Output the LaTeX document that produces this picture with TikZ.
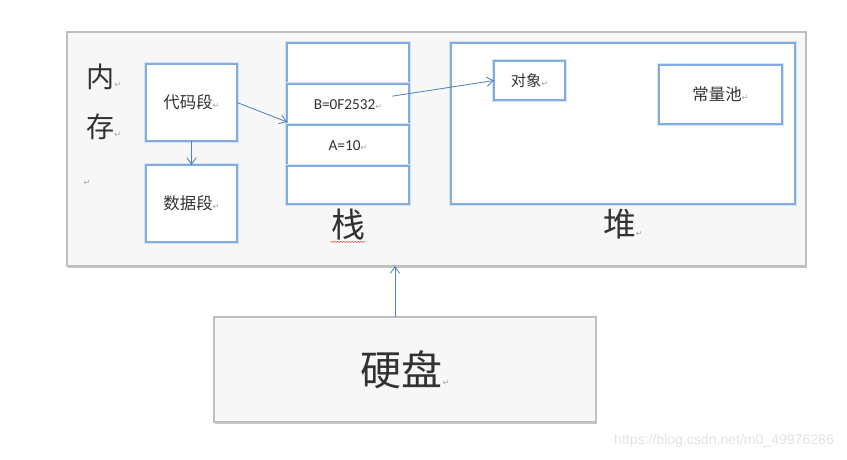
\documentclass[tikz,border=0pt]{standalone}
\usepackage{fontspec}
\setmainfont{Carlito}
\setsansfont{Liberation Sans}
\newfontfamily\cjk{Noto Sans CJK SC}
\newfontfamily\symb{DejaVu Sans}
\usepackage{tikz}
\usetikzlibrary{arrows.meta,positioning,shadows,decorations.pathmorphing}
\definecolor{boxblue}{RGB}{130,172,224}
\definecolor{arrowblue}{RGB}{79,129,189}
\definecolor{txt}{RGB}{50,50,50}
\newcommand\ret{{\symb\fontsize{7}{7}\selectfont\color{gray!70}↵}}

\begin{document}
\begin{tikzpicture}[x=0.03cm, y=-0.03cm,
  panel/.style={draw=gray!50, line width=1.2pt, fill=gray!6, inner sep=0pt, outer sep=0pt,
                drop shadow={shadow xshift=0.8pt, shadow yshift=-2pt, opacity=0.45}},
  seg/.style={draw=boxblue, line width=1.8pt, fill=white, inner sep=2pt, outer sep=0pt,
              preaction={draw=boxblue!35, line width=3.6pt},
              font=\cjk\fontsize{14}{14}\selectfont, text=txt},
  cell/.style={seg, minimum width=3.66cm, minimum height=1.23cm, font=\fontsize{13}{13}\selectfont},
  big/.style={font=\cjk\fontsize{24}{24}\selectfont, text=txt, inner sep=0pt},
  arr/.style={-{Straight Barb[length=2mm,width=2.8mm]}, draw=arrowblue, line width=0.7pt}
]
\useasboundingbox (0,0) rectangle (847,460);

% memory and hard disk
\node[panel, minimum width=22.17cm, minimum height=7.02cm] (mem) at (436.5,149) {};
\node[panel, minimum width=11.46cm, minimum height=3.15cm,
      font=\cjk\fontsize{35}{35}\selectfont, text=txt] (disk) at (405,369.5) {硬盘\ret};

\node[big, anchor=west] (nei) at (86,77) {内\ret};
\node[big, anchor=west] (cun) at (86,127) {存\ret};
\node[inner sep=0pt] (blank) at (87,183) {\ret};

% code / data segments
\node[seg, minimum width=2.73cm, minimum height=2.31cm] (code) at (191.5,102.5) {代码段\ret};
\node[seg, minimum width=2.73cm, minimum height=2.31cm, below=0.72cm of code] (data) {数据段\ret};

% stack
\node[cell] (s1) at (348,63.5) {};
\node[cell, below=0pt of s1] (s2) {B=0F2532\ret};
\node[cell, below=0pt of s2] (s3) {A=10\ret};
\node[cell, below=0pt of s3, minimum height=1.14cm] (s4) {};
\node[big, font=\cjk\fontsize{29}{29}\selectfont, below=0.15cm of s4] (stackl) {栈};
\draw[red!80, line width=0.4pt, decorate, decoration={snake, amplitude=0.5pt, segment length=2.5pt}]
  ([yshift=-1pt]stackl.south west) -- ([yshift=-1pt]stackl.south east);

% heap
\node[seg, minimum width=10.32cm, minimum height=4.83cm] (heap) at (623,123.5) {};
\node[seg, minimum width=2.13cm, minimum height=1.17cm, font=\cjk\fontsize{13}{13}\selectfont] (obj) at (529.5,80.5) {对象\ret};
\node[seg, minimum width=3.69cm, minimum height=1.77cm] (pool) at (720.5,94.5) {常量池\ret};
\node[big, font=\cjk\fontsize{28}{28}\selectfont, below=0.15cm of heap] (heapl) {堆\ret};

\draw[arr] (code.east) -- ([yshift=0.09cm]s2.south west);
\draw[arr] ([shift={(-0.5cm,0.25cm)}]s2.east) -- (obj.west);
\draw[arr] (code.south) -- (data.north);
\draw[arr] ([xshift=-0.3cm]disk.north) -- ([xshift=-0.3cm]disk.north |- mem.south);

\node[font=\sffamily\fontsize{12}{12}\selectfont, text=gray!22, anchor=east] (mark) at (838,441) {https://blog.csdn.net/m0\_49976286};
\end{tikzpicture}
\end{document}
